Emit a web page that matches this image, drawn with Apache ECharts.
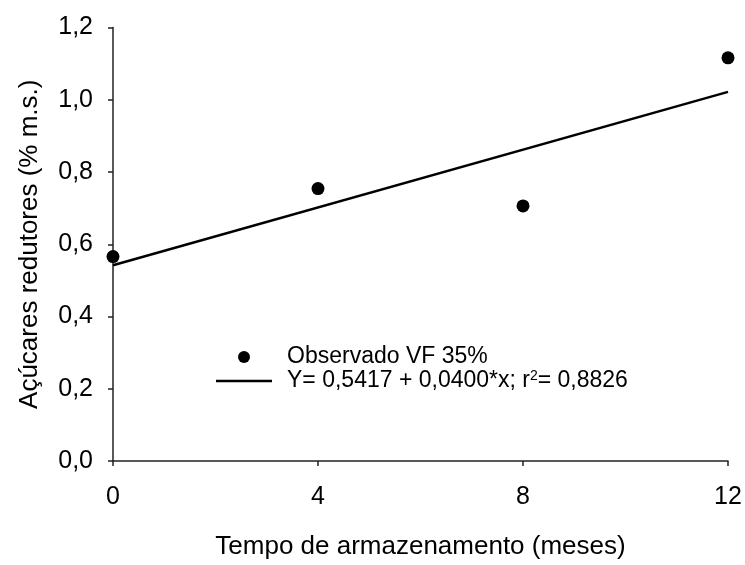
<!DOCTYPE html>
<html>
<head>
<meta charset="utf-8">
<script src="https://cdn.jsdelivr.net/npm/echarts@6/dist/echarts.min.js"></script>
<style>html,body{margin:0;padding:0;background:#fff}#c{width:745px;height:565px}</style>
</head>
<body>
<div id="c"></div>
<script>
var months = [0, 4, 8, 12];
var observed = [0.566, 0.754, 0.706, 1.116];
var fitIntercept = 0.5417;
var fitSlope = 0.0400;
var fitX = [0, 12];
var xTicks = [0, 4, 8, 12];
var yTicks = [0, 0.2, 0.4, 0.6, 0.8, 1.0, 1.2];
var seriesNames = ['Observado VF 35%', 'Y= 0,5417 + 0,0400*x; r²= 0,8826'];

var fitLine = fitX.map(function (x) { return [x, fitIntercept + fitSlope * x]; });
var obsData = months.map(function (m, i) { return [m, observed[i]]; });

var font = '"Liberation Sans", Arial, sans-serif';
var chart = echarts.init(document.getElementById('c'), null, {renderer: 'canvas'});
chart.setOption({
  animation: false,
  backgroundColor: '#fff',
  grid: {left: 113, right: 17, top: 27.5, bottom: 95, containLabel: false},
  xAxis: {
    type: 'value', min: 0, max: 12, interval: 4,
    name: 'Tempo de armazenamento (meses)', nameLocation: 'middle', nameGap: 73,
    nameTextStyle: {fontFamily: font, fontSize: 26, color: '#000'},
    axisLine: {lineStyle: {color: '#222', width: 1.5}},
    axisTick: {show: true, inside: false, length: 5, lineStyle: {color: '#222', width: 1.5}},
    axisLabel: {fontFamily: font, fontSize: 25, color: '#000', margin: 24},
    splitLine: {show: false}
  },
  yAxis: {
    type: 'value', min: 0, max: 1.2, interval: 0.2,
    name: 'Açúcares redutores (% m.s.)', nameLocation: 'middle', nameGap: 70, nameRotate: 90,
    nameTextStyle: {fontFamily: font, fontSize: 26, color: '#000'},
    axisLine: {show: true, lineStyle: {color: '#222', width: 1.5}},
    axisTick: {show: true, inside: false, length: 5, lineStyle: {color: '#222', width: 1.5}},
    axisLabel: {fontFamily: font, fontSize: 25, color: '#000', margin: 20,
      formatter: function (v) { return v.toFixed(1).replace('.', ','); }},
    splitLine: {show: false}
  },
  legend: {
    orient: 'vertical', left: 211, top: 340, itemWidth: 56, itemHeight: 12, itemGap: 0,
    data: [
      {name: seriesNames[0], icon: 'circle', itemStyle: {color: '#000', opacity: 1}},
      {name: seriesNames[1], icon: 'path://M0,0 L56,0 L56,2.5 L0,2.5 Z', itemStyle: {color: '#000'}}
    ],
    textStyle: {fontFamily: font, fontSize: 23, color: '#000', lineHeight: 24, padding: [0, 0, 0, 10],
      rich: {sup: {fontFamily: font, fontSize: 14, color: '#000', verticalAlign: 'top', lineHeight: 24, padding: [0,0,10,0]}}},
    formatter: function (name) {
      if (name === seriesNames[1]) return 'Y= 0,5417 + 0,0400*x; r{sup|2}= 0,8826';
      return name;
    }
  },
  series: [
    {
      name: seriesNames[0], type: 'scatter', data: obsData, symbol: 'circle', symbolSize: 13,
      itemStyle: {color: '#000', opacity: 1}
    },
    {
      name: seriesNames[1], type: 'line', data: fitLine, symbol: 'none', showSymbol: false,
      lineStyle: {color: '#000', width: 2.5}, itemStyle: {color: '#000'}
    }
  ]
});
</script>
</body>
</html>
